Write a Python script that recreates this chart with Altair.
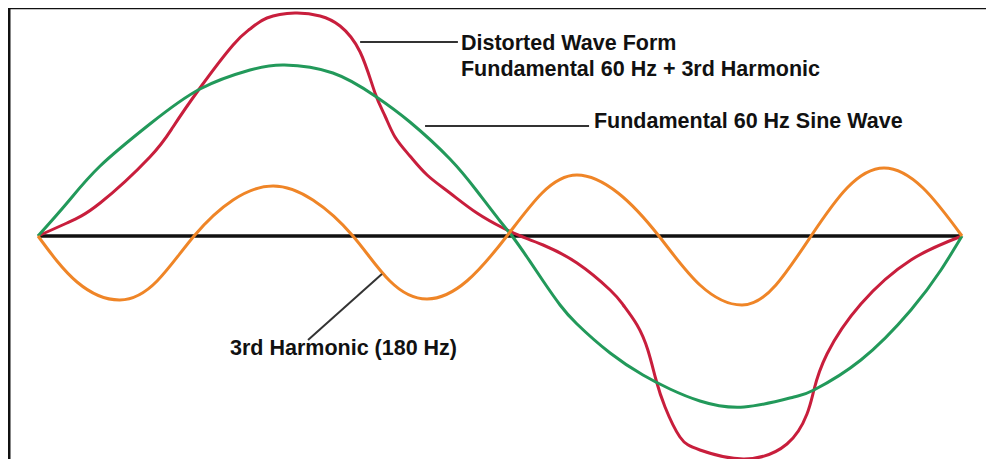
import altair as alt
import pandas as pd

# Phase (degrees) and amplitude (arbitrary units, 0 = baseline)
fund_phase = [0, 11.3, 24.2, 43.6, 63.1, 82.6, 96.0, 114.9, 131.3, 144.9, 160.5, 171.0, 180.0,
              184.7, 190.5, 196.8, 203.4, 210.0, 222.9, 235.7, 246.2, 257.9, 275.1, 294.5, 302.3,
              320.6, 340.1, 351.8, 360]
fund_amp = [0, 33, 70, 112, 147, 166, 171, 163, 140, 114, 77, 45, 15,
            0, -21, -45, -69, -88, -117, -139, -153, -165, -171, -161, -154,
            -124, -74, -34, 0]

dist_phase = [0, 11.3, 24.2, 43.6, 52.6, 63.1, 76.0, 82.6, 89.2, 100.1, 109.9, 117.7, 125.5, 131.3,
              135.2, 139.1, 144.9, 151.6, 160.5, 171.0, 181.2, 188.0, 196.8, 210.0, 222.9, 228.0,
              233.4, 237.6, 240.8, 244.3, 250.1, 257.9, 275.1, 291.8, 299.6, 302.3, 307.4, 320.6,
              340.1, 360]
dist_amp = [0, 13, 33, 79, 109, 148, 191, 207, 218, 223, 220, 210, 184, 143,
            120, 99, 80, 61, 43, 23, 8, 0, -9, -27, -54, -69,
            -89, -114, -144, -171, -201, -214, -223, -208, -178, -154, -118, -68,
            -24, 0]

harm_phase = [0, 15.2, 31.9, 46.4, 60.8, 76.0, 91.6, 107.1, 122.7, 137.1, 151.6, 167.1, 182.7,
              196.4, 210.0, 226.0, 241.9, 257.9, 274.3, 287.5, 301.2, 315.2, 329.6, 344.8, 360]
harm_amp = [0, -46, -64, -45, 0, 36, 50, 36, 0, -45, -63, -45, 0,
            43, 61, 43, 0, -49, -69, -49, 0, 48, 68, 48, 0]

series_names = ["Distorted", "Fundamental", "Harmonic"]
series_colors = ["#c81e3c", "#22995a", "#ef8527"]

labels = ["Distorted Wave Form", "Fundamental 60 Hz + 3rd Harmonic",
          "Fundamental 60 Hz Sine Wave", "3rd Harmonic (180 Hz)"]
label_phase = [164.8, 164.8, 216.6, 74.8]
label_amp = [192, 166, 114, -113]

leader_from_phase = [125.5, 150.8, 134.0]
leader_from_amp = [194, 110, -38]
leader_to_phase = [163.6, 214.7, 105.2]
leader_to_amp = [194, 110, -104]

rows = []
for name, ph, am in [("Fundamental", fund_phase, fund_amp),
                     ("Distorted", dist_phase, dist_amp),
                     ("Harmonic", harm_phase, harm_amp)]:
    for i, (p, a) in enumerate(zip(ph, am)):
        rows.append({"series": name, "phase": p, "amp": a, "i": i})
df = pd.DataFrame(rows)

W, H = 978, 451
xs = alt.Scale(domain=[-11.69, 369.35], nice=False, zero=False)
ys = alt.Scale(domain=[-223, 228], nice=False, zero=False)
color = alt.Color("series:N", scale=alt.Scale(domain=series_names, range=series_colors), legend=None)

baseline = alt.Chart(pd.DataFrame({"x": [0], "x2": [360], "y": [0]})).mark_rule(
    color="#111111", strokeWidth=3.5).encode(
    x=alt.X("x:Q", scale=xs, axis=None), x2="x2:Q", y=alt.Y("y:Q", scale=ys, axis=None))

def curve(name):
    return alt.Chart(df[df.series == name]).mark_line(
        strokeWidth=3, interpolate="natural").encode(
        x=alt.X("phase:Q", scale=xs, axis=None),
        y=alt.Y("amp:Q", scale=ys, axis=None),
        order="i:Q", color=color)

leaders = alt.Chart(pd.DataFrame({"x": leader_from_phase, "y": leader_from_amp,
                                  "x2": leader_to_phase, "y2": leader_to_amp})).mark_rule(
    color="#333333", strokeWidth=2).encode(
    x=alt.X("x:Q", scale=xs, axis=None), y=alt.Y("y:Q", scale=ys, axis=None), x2="x2:Q", y2="y2:Q")

texts = alt.Chart(pd.DataFrame({"x": label_phase, "y": label_amp, "t": labels})).mark_text(
    align="left", baseline="middle", font="Liberation Sans", fontWeight="bold",
    fontSize=21.5, color="#111111").encode(
    x=alt.X("x:Q", scale=xs, axis=None), y=alt.Y("y:Q", scale=ys, axis=None), text="t:N")

frame_top = alt.Chart(pd.DataFrame({"a": [0]})).mark_rule(color="#111111", strokeWidth=2.5).encode(
    x=alt.value(0), x2=alt.value(W), y=alt.value(0))
frame_left = alt.Chart(pd.DataFrame({"a": [0]})).mark_rule(color="#111111", strokeWidth=3).encode(
    x=alt.value(1), y=alt.value(0), y2=alt.value(H))

chart = alt.layer(
    frame_top, frame_left, baseline, curve("Distorted"), curve("Fundamental"), curve("Harmonic"),
    leaders, texts
).properties(width=W, height=H, padding=0, autosize=alt.AutoSizeParams(type="none")).configure_view(
    stroke=None)

chart.save("out.html", embed_options={"renderer": "svg", "actions": False})
